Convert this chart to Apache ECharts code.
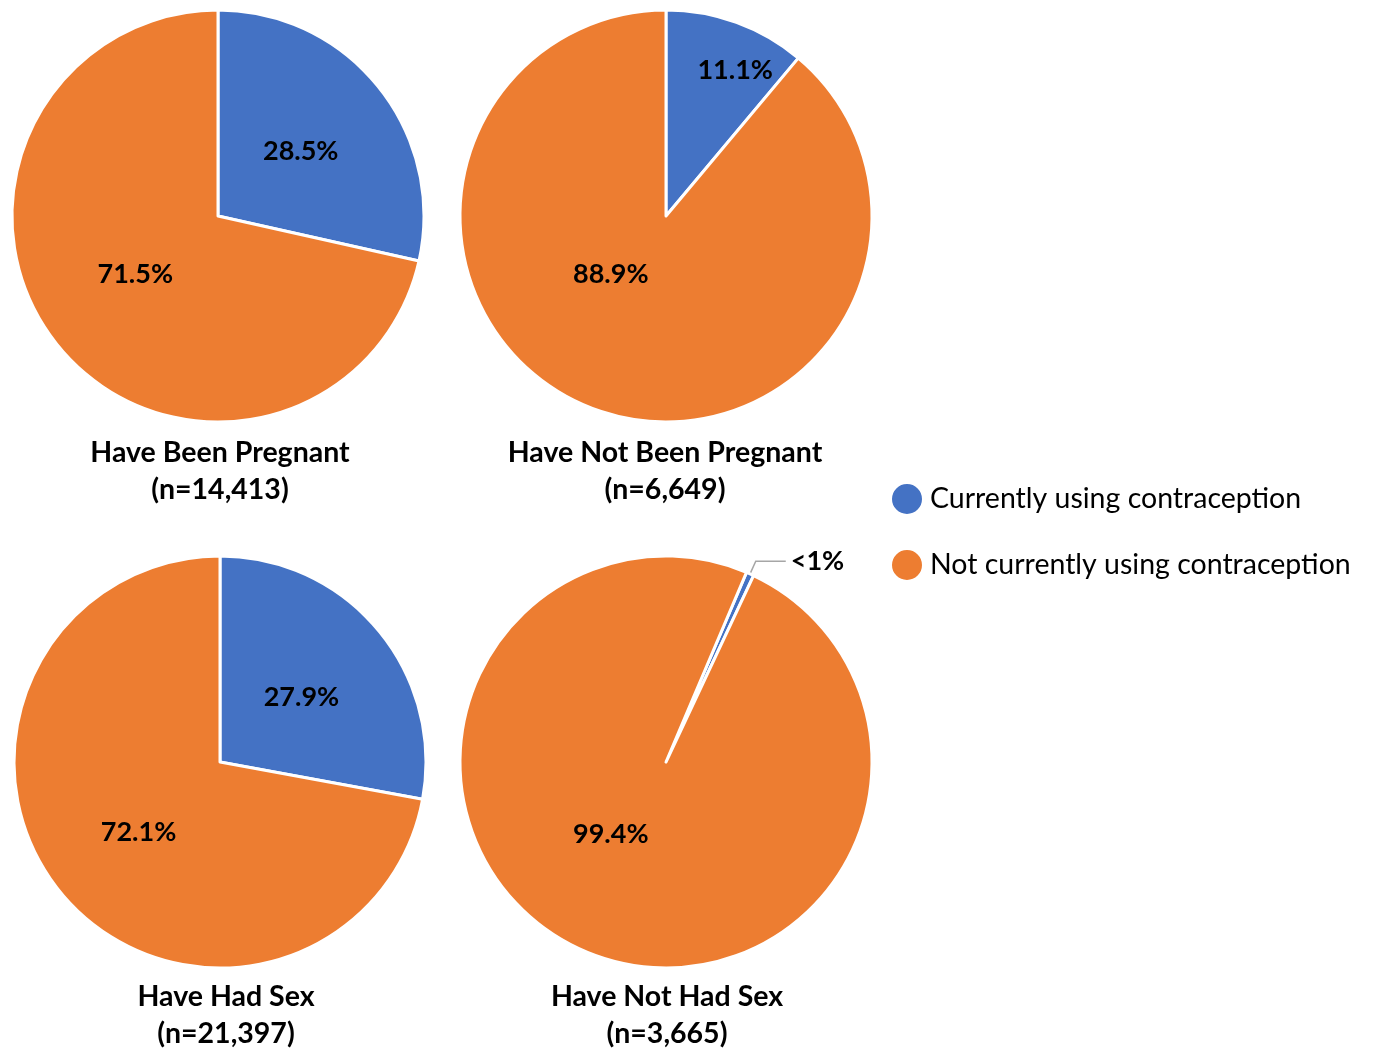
<!DOCTYPE html>
<html>
<head>
<meta charset="utf-8">
<script src="https://cdn.jsdelivr.net/npm/echarts@6/dist/echarts.min.js"></script>
<style>html,body{margin:0;padding:0;background:#fff;}#main{width:1374px;height:1049px;}</style>
</head>
<body>
<div id="main"></div>
<script>
// ---- data ----
var categories = ['Currently using contraception', 'Not currently using contraception'];
var groupNames = ['Have Been Pregnant', 'Have Not Been Pregnant', 'Have Had Sex', 'Have Not Had Sex'];
var groupN = ['14,413', '6,649', '21,397', '3,665'];
var usingPct = [28.5, 11.1, 27.9, 0.6];
var notUsingPct = [71.5, 88.9, 72.1, 99.4];
var labelTexts = [['28.5%', '71.5%'], ['11.1%', '88.9%'], ['27.9%', '72.1%'], ['<1%', '99.4%']];

// ---- styling ----
var colors = ['#4472C4', '#ED7D31'];
var FONT = 'Lato, "Open Sans", sans-serif';
var layouts = [
  {center: [218, 216], startAngle: 90, offsets: [[0, 2], [0, -8]]},
  {center: [666, 216], startAngle: 90, offsets: [[33, -46], [-19, -41]]},
  {center: [220, 762], startAngle: 90, offsets: [[0, 3], [0, 2]]},
  {center: [666, 762], startAngle: 67, offsets: [null, [-12, -24]]}
];
var titlePos = [[215, 429], [660, 429], [221, 973], [662, 973]];
var R = 206;

var series = [];
var titles = [];
for (var i = 0; i < 4; i++) {
  var lay = layouts[i];
  var vals = [usingPct[i], notUsingPct[i]];
  var data = vals.map(function (v, j) {
    var item = {name: categories[j], value: v, itemStyle: {color: colors[j]}};
    var txt = labelTexts[i][j];
    if (lay.offsets[j]) {
      item.label = {position: 'inner', formatter: txt, offset: lay.offsets[j]};
      item.labelLine = {show: false};
    } else {
      item.label = {position: 'outside', formatter: txt, distance: 4};
      item.labelLine = {show: true, length: 14, length2: 30, lineStyle: {color: '#A6A6A6', width: 1.5}};
    }
    return item;
  });
  series.push({
    type: 'pie',
    center: lay.center,
    radius: [0, R],
    startAngle: lay.startAngle,
    clockwise: true,
    silent: true,
    animation: false,
    avoidLabelOverlap: false,
    itemStyle: {borderColor: '#ffffff', borderWidth: 3},
    label: {show: true, color: '#000', fontFamily: FONT, fontWeight: 'bold', fontSize: 27},
    data: data
  });
  titles.push({
    text: groupNames[i] + '\n(n=' + groupN[i] + ')',
    left: titlePos[i][0],
    top: titlePos[i][1],
    textAlign: 'center',
    textStyle: {fontFamily: FONT, fontWeight: 'bold', fontSize: 28.5, color: '#000', lineHeight: 37}
  });
}

var chart = echarts.init(document.getElementById('main'), null, {renderer: 'canvas'});
chart.setOption({
  backgroundColor: '#fff',
  color: colors,
  title: titles,
  legend: {
    orient: 'vertical',
    left: 885,
    top: 477,
    itemGap: 32,
    itemWidth: 32,
    itemHeight: 32,
    icon: 'circle',
    selectedMode: false,
    textStyle: {fontFamily: FONT, fontSize: 28.5, color: '#000', padding: [0, 0, 0, 2]},
    data: categories
  },
  series: series
});
</script>
</body>
</html>
